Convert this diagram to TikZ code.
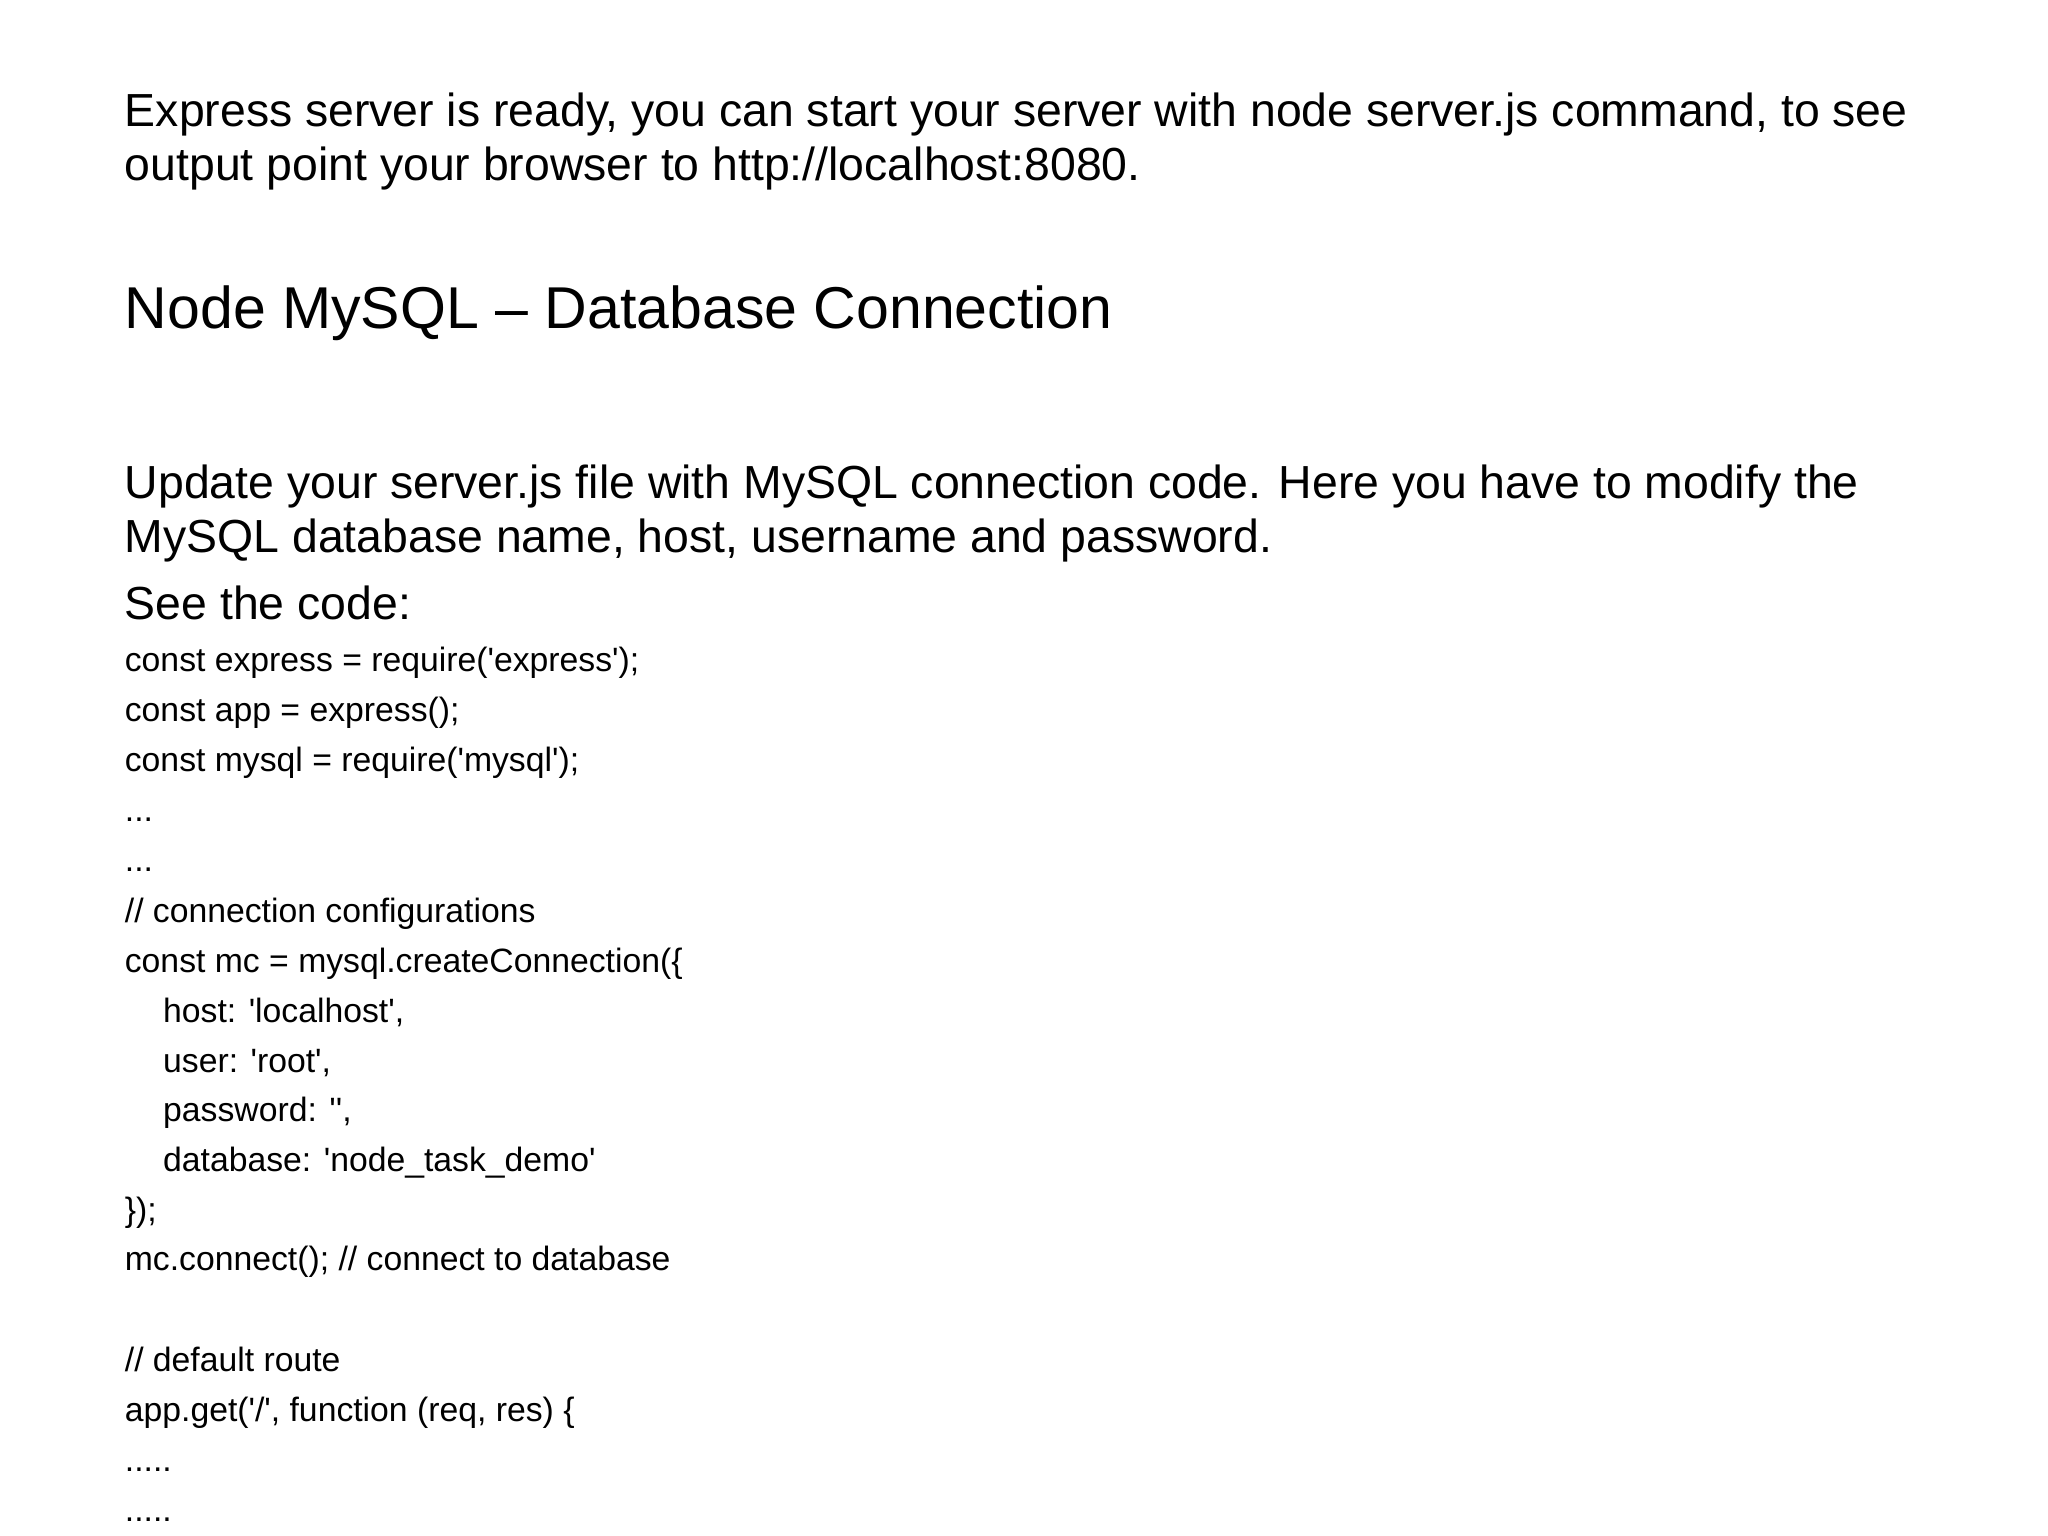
\documentclass[tikz,border=0pt]{standalone}
\usepackage{fontspec}
\setmainfont{Liberation Sans}
\usepackage{tikz}
\newcommand{\sq}{\textquotesingle}
\tikzset{
  para/.style={anchor=base west, inner sep=0pt, font=\fontsize{13.2pt}{16pt}\selectfont},
  head/.style={anchor=base west, inner sep=0pt, font=\fontsize{16.8pt}{20pt}\selectfont},
  code/.style={anchor=base west, inner sep=0pt, font=\fontsize{9.6pt}{12pt}\selectfont},
}
\begin{document}
\begin{tikzpicture}[x=0.01321cm, y=-0.01321cm]
    \useasboundingbox[fill=white] (0,0) rectangle (1550.3,1162.7);

    \node (intro1) [para] at (94,96) {Express server is ready, you can start your server with node server.js command, to see};
    \node (intro2) [para] at (94,137) {output point your browser to http://localhost:8080.};

    \node (heading) [head] at (94,249) {Node MySQL -- Database Connection};

    \node (update1) [para] at (94,377) {Update your server.js file with MySQL connection code. Here you have to modify the};
    \node (update2) [para] at (94,418) {MySQL database name, host, username and password.};
    \node (seecode) [para] at (94,469) {See the code:};

    % code lines
    \node (c1) [code] at (94,508) {const express = require(\sq express\sq);};
    \node (c2) [code] at (94,546) {const app = express();};
    \node (c3) [code] at (94,584) {const mysql = require(\sq mysql\sq);};
    \node (c4) [code] at (94,622) {...};
    \node (c5) [code] at (94,660) {...};
    \node (c6) [code] at (94,698) {// connection configurations};
    \node (c7) [code] at (94,736) {const mc = mysql.createConnection(\{};
    \node (c8) [code] at (123,774) {host: \sq localhost\sq,};
    \node (c9) [code] at (123,812) {user: \sq root\sq,};
    \node (c10) [code] at (123,849) {password: \sq\sq,};
    \node (c11) [code] at (123,887) {database: \sq node\_task\_demo\sq};
    \node (c12) [code] at (94,925) {\});};
    \node (c13) [code] at (94,962) {mc.connect(); // connect to database};
    \node (c14) [code] at (94,1038) {// default route};
    \node (c15) [code] at (94,1076) {app.get(\sq/\sq, function (req, res) \{};
    \node (c16) [code] at (94,1114) {.....};
    \node (c17) [code] at (94,1152) {.....};

\end{tikzpicture}
\end{document}
